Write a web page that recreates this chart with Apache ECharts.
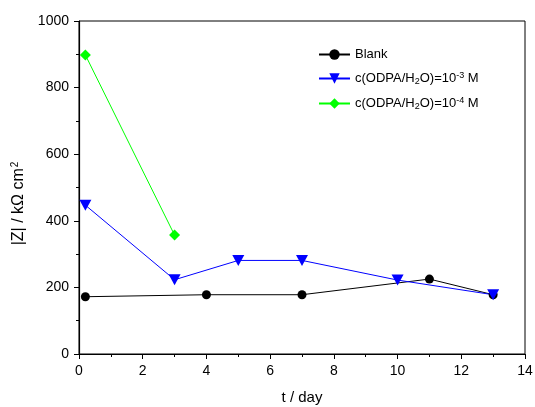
<!DOCTYPE html>
<html><head><meta charset="utf-8">
<script src="https://cdn.jsdelivr.net/npm/echarts@6/dist/echarts.min.js"></script>
<style>html,body{margin:0;padding:0;background:#fff}#c{width:535px;height:407px}</style>
</head><body><div id="c"></div>
<script>
const blankX = [0.2, 4, 7, 11, 13];
const blankY = [172, 178, 178, 225, 178];
const m3X = [0.2, 3, 5, 7, 10, 13];
const m3Y = [447, 223, 281, 281, 222, 178];
const m4X = [0.2, 3];
const m4Y = [898, 357];
const xTicks = [0, 2, 4, 6, 8, 10, 12, 14];
const yTicks = [0, 200, 400, 600, 800, 1000];
const seriesNames = ['Blank', 'c(ODPA/H2O)=10-3 M', 'c(ODPA/H2O)=10-4 M'];

const zip = (xs, ys) => xs.map((x, i) => [x, ys[i]]);
const font = 'Liberation Sans, Arial, sans-serif';
const chart = echarts.init(document.getElementById('c'));
const triDown = 'path://M0,0 L10,0 L5,9 Z';

chart.setOption({
  animation: false,
  grid: { left: 79, right: 10, top: 21, bottom: 53, show: true, borderColor: '#000', borderWidth: 1,
          containLabel: false, outerBoundsMode: 'none' },
  xAxis: {
    type: 'value', min: 0, max: 14, interval: 2,
    name: 't / day', nameLocation: 'middle', nameGap: 36,
    nameTextStyle: { fontFamily: font, fontSize: 15, color: '#000' },
    axisLine: { show: true, lineStyle: { color: '#000', width: 1.2 } },
    axisTick: { show: true, inside: false, length: 5, lineStyle: { color: '#000' } },
    minorTick: { show: true, splitNumber: 2, length: 3, lineStyle: { color: '#000' } },
    splitLine: { show: false },
    axisLabel: { fontFamily: font, fontSize: 14, color: '#000', margin: 10,
      formatter: v => xTicks.includes(v) ? String(v) : '' }
  },
  yAxis: {
    type: 'value', min: 0, max: 1000, interval: 200,
    name: '{a||Z| / kΩ cm}{s|2}', nameLocation: 'middle', nameGap: 47,
    nameTextStyle: { fontFamily: font, fontSize: 16, color: '#000', padding: [0, 32, 0, 0],
      rich: { a: { fontFamily: font, fontSize: 16, color: '#000' },
              s: { fontFamily: font, fontSize: 10, color: '#000', verticalAlign: 'top', padding: [0,0,8,1] } } },
    axisLine: { show: true, lineStyle: { color: '#000', width: 1.2 } },
    axisTick: { show: true, inside: false, length: 5, lineStyle: { color: '#000' } },
    minorTick: { show: true, splitNumber: 2, length: 3, lineStyle: { color: '#000' } },
    splitLine: { show: false },
    axisLabel: { fontFamily: font, fontSize: 14, color: '#000', margin: 10,
      formatter: v => yTicks.includes(v) ? String(v) : '' }
  },
  legend: {
    left: 313, top: 43, orient: 'vertical', itemGap: 10,
    itemWidth: 31, itemHeight: 13,
    data: seriesNames,
    textStyle: { fontFamily: font, fontSize: 13, color: '#000',
      rich: {
        t: { fontFamily: font, fontSize: 13, color: '#000' },
        sub: { fontFamily: font, fontSize: 9, color: '#000', verticalAlign: 'bottom', padding: [6,0,0,0] },
        sup: { fontFamily: font, fontSize: 9, color: '#000', verticalAlign: 'top', padding: [0,0,6,0] }
      } },
    formatter: n => {
      if (n === 'Blank') return '{t|Blank}';
      const e = n.indexOf('-3') >= 0 ? '-3' : '-4';
      return '{t|c(ODPA/H}{sub|2}{t|O)=10}{sup|' + e + '}{t| M}';
    }
  },
  series: [
    { name: seriesNames[0], type: 'line', data: zip(blankX, blankY),
      symbol: 'circle', symbolSize: 9, color: '#000',
      lineStyle: { color: '#000', width: 1 }, itemStyle: { color: '#000' } },
    { name: seriesNames[1], type: 'line', data: zip(m3X, m3Y),
      symbol: triDown, symbolSize: [12, 11], color: '#0000ff',
      lineStyle: { color: '#0000ff', width: 1 }, itemStyle: { color: '#0000ff' } },
    { name: seriesNames[2], type: 'line', data: zip(m4X, m4Y),
      symbol: 'diamond', symbolSize: 11, color: '#00ff00',
      lineStyle: { color: '#00ff00', width: 1 }, itemStyle: { color: '#00ff00' } }
  ]
});
</script></body></html>
